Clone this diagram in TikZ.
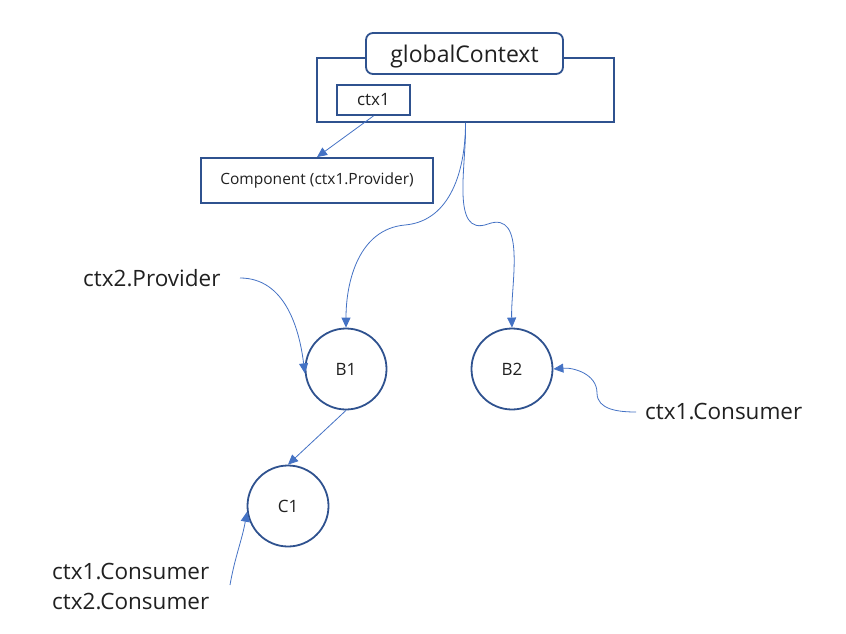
\documentclass[tikz,border=0pt]{standalone}
\usepackage{fontspec}
\setmainfont{Open Sans}
\usetikzlibrary{arrows.meta}
\definecolor{boxblue}{HTML}{2F528F}
\definecolor{linkblue}{HTML}{4472C4}
\definecolor{txt}{HTML}{202020}

\begin{document}
\begin{tikzpicture}[x=1pt,y=-1pt,
    ctxbox/.style={draw=boxblue,line width=1.8pt,fill=white,text=txt,inner sep=0pt},
    comp/.style={circle,draw=boxblue,line width=1.8pt,minimum size=81pt,inner sep=0pt,text=txt,font=\fontsize{17}{20}\selectfont},
    lbl/.style={text=txt,inner sep=0pt,font=\fontsize{22.5}{30}\selectfont},
    link/.style={draw=linkblue,line width=0.8pt,-{Triangle[length=10pt,width=9pt]}}]
  \useasboundingbox (0,0) rectangle (846,634);

  % context boxes
  \node[ctxbox,minimum width=297pt,minimum height=64pt] (gctx) at (465.5,90) {};
  \node[ctxbox,rounded corners=7pt,minimum width=197pt,minimum height=41pt,text depth=0pt,
        font=\fontsize{23}{26}\selectfont] (gname) at (464.5,53.5) {globalContext};
  \node[ctxbox,minimum width=73pt,minimum height=30pt,
        font=\fontsize{17}{20}\selectfont] (ctxone) at (373.5,100) {ctx1};
  \node[ctxbox,minimum width=232pt,minimum height=45pt,
        font=\fontsize{15.5}{18}\selectfont] (provcomp) at (317,180.5) {Component (ctx1.Provider)};

  % components
  \node[comp] (bone) at (346,369) {B1};
  \node[comp] (btwo) at (512,369) {B2};
  \node[comp] (cone) at (288,506) {C1};

  % labels
  \node[lbl,anchor=west] (provtwo) at (83,278) {ctx2.Provider};
  \node[lbl,anchor=west] (consb) at (645,412) {ctx1.Consumer};
  \node[lbl,anchor=west,align=left] (consc) at (52,587) {ctx1.Consumer\\ctx2.Consumer};

  \coordinate (bendl) at (405,225);
  \coordinate (bendr) at (488,224);
  \coordinate (bendc) at (597,393);
  \coordinate (startc) at (230,585);

  \draw[link] (ctxone.south) -- (provcomp.north);
  \draw[link] (gctx.south) to[out=-90,in=5] (bendl) to[out=185,in=90] (bone.north);
  \draw[link] (gctx.south) to[out=-88,in=200] (bendr) to[out=20,in=92] (btwo.north);
  \draw[link] (240,278) to[out=0,in=97] (bone.186);
  \draw[link] ([xshift=-9pt]consb.west) to[out=180,in=-90] (bendc) to[out=90,in=5] (btwo.east);
  \draw[link] (bone.south) -- (cone.north);
  \draw[link] (startc) to[out=80,in=-100] (cone.188);
\end{tikzpicture}
\end{document}
